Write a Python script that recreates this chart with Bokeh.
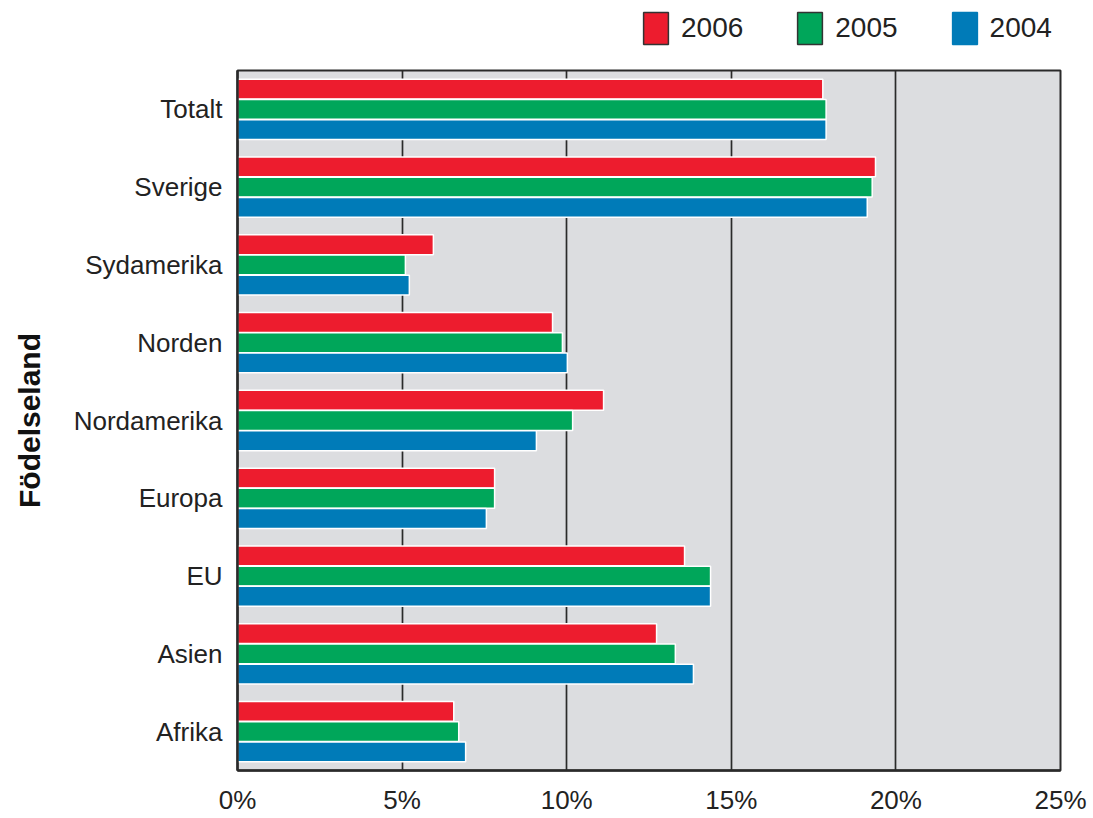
from bokeh.plotting import figure
from bokeh.layouts import column
from bokeh.models import ColumnDataSource, FactorRange, Range1d, Legend, LegendItem, FixedTicker, CustomJSTickFormatter
from bokeh.transform import dodge
from bokeh.embed import file_html
from bokeh.resources import INLINE

categories = ["Totalt", "Sverige", "Sydamerika", "Norden", "Nordamerika", "Europa", "EU", "Asien", "Afrika"]
v2006 = [17.78, 19.38, 5.95, 9.57, 11.12, 7.81, 13.58, 12.73, 6.57]
v2005 = [17.88, 19.28, 5.10, 9.87, 10.18, 7.81, 14.37, 13.30, 6.72]
v2004 = [17.88, 19.13, 5.22, 10.02, 9.08, 7.56, 14.37, 13.85, 6.93]
years = ["2006", "2005", "2004"]
x_ticks = [0, 5, 10, 15, 20, 25]

RED = "#ed1c2e"
GREEN = "#00a65a"
BLUE = "#007bb8"
FONT = "Liberation Sans"
W = 1090

src = ColumnDataSource(dict(cat=categories, a=v2006, b=v2005, c=v2004))

# ---------- main chart ----------
p = figure(width=W, height=755, output_backend="svg", toolbar_location=None,
           y_range=FactorRange(factors=list(reversed(categories)), range_padding=0),
           x_range=Range1d(0, 25),
           min_border_left=237, min_border_right=30, min_border_top=8, min_border_bottom=45)

p.background_fill_color = "#dcdde0"
p.border_fill_color = "white"
p.outline_line_color = "#2a2a2a"
p.outline_line_width = 2

w = 0.26
common = dict(height=w - 0.005, left=0, source=src, line_color="white", line_width=1.5)
p.hbar(y=dodge("cat", w, range=p.y_range), right="a", fill_color=RED, **common)
p.hbar(y=dodge("cat", 0, range=p.y_range), right="b", fill_color=GREEN, **common)
p.hbar(y=dodge("cat", -w, range=p.y_range), right="c", fill_color=BLUE, **common)

p.ygrid.grid_line_color = None
p.xgrid.ticker = FixedTicker(ticks=[5, 10, 15, 20])
p.xgrid.grid_line_color = "#2a2a2a"
p.xgrid.grid_line_width = 1.7
p.xgrid.level = "underlay"

p.xaxis.ticker = FixedTicker(ticks=x_ticks)
p.xaxis.formatter = CustomJSTickFormatter(code="return tick + '%';")
for ax in (p.xaxis[0], p.yaxis[0]):
    ax.major_tick_line_color = None
    ax.minor_tick_line_color = None
    ax.axis_line_color = "#2a2a2a"
    ax.axis_line_width = 2.5
    ax.major_label_text_font = FONT
    ax.major_label_text_font_size = "26px"
    ax.major_label_text_color = "#222222"
p.xaxis.major_label_standoff = 8
p.yaxis.major_label_standoff = 9

p.yaxis.axis_label = "Födelseland"
p.yaxis.axis_label_text_font = FONT
p.yaxis.axis_label_text_font_style = "bold"
p.yaxis.axis_label_text_font_size = "30px"
p.yaxis.axis_label_text_color = "#111111"
p.yaxis.axis_label_standoff = 25

# ---------- legend strip ----------
lg = figure(width=W, height=62, output_backend="svg", toolbar_location=None,
            x_range=Range1d(0, 1), y_range=Range1d(0, 1),
            x_axis_type=None, y_axis_type=None,
            min_border_left=237, min_border_right=30, min_border_top=0, min_border_bottom=0)
lg.grid.visible = False
lg.outline_line_color = None
lg.background_fill_color = "white"

nan = float("nan")
proxy = dict(height=0.1, left=[nan], right=[nan], line_width=1.5)
r1 = lg.hbar(y=[0.5], fill_color=RED, line_color="#333333", **proxy)
r2 = lg.hbar(y=[0.5], fill_color=GREEN, line_color="#333333", **proxy)
r3 = lg.hbar(y=[0.5], fill_color=BLUE, line_color=BLUE, **proxy)

legend = Legend(items=[LegendItem(label=years[0], renderers=[r1]),
                       LegendItem(label=years[1], renderers=[r2]),
                       LegendItem(label=years[2], renderers=[r3])],
                orientation="horizontal", location=(403, 14),
                glyph_width=31, glyph_height=40, label_standoff=10, spacing=51,
                padding=0, margin=0, border_line_color=None, background_fill_alpha=0,
                label_text_font=FONT, label_text_font_size="28px", label_text_color="#222222")
lg.add_layout(legend)

layout = column(lg, p, spacing=0)
open("out.html", "w").write(file_html(layout, INLINE))
